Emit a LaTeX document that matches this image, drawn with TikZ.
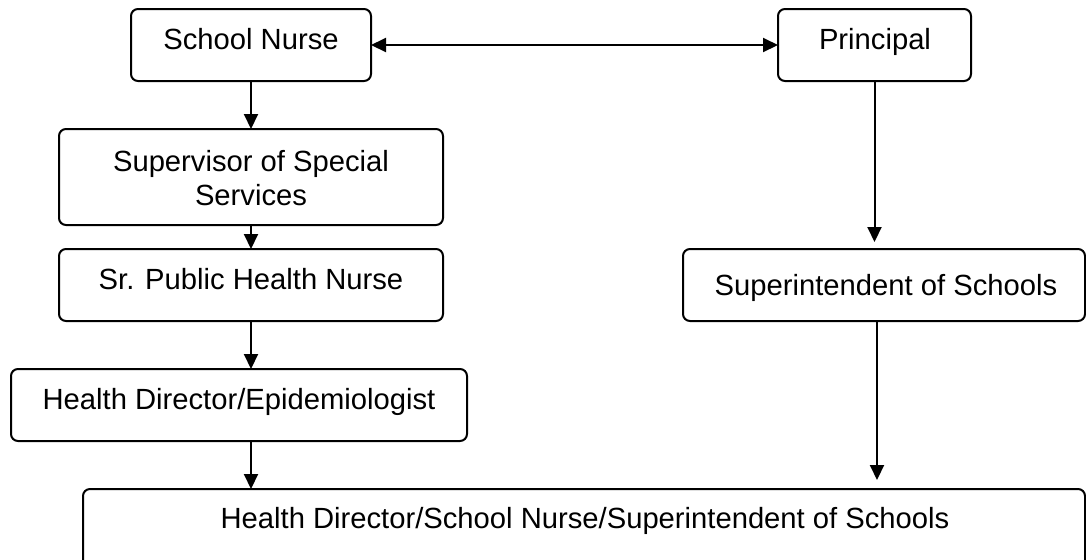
\documentclass[tikz,border=0pt]{standalone}
\usepackage{fontspec}
\setmainfont{Liberation Sans}
\usetikzlibrary{arrows.meta}
\begin{document}
\begin{tikzpicture}[x=0.5pt,y=-0.5pt,
  box/.style={draw=black, line width=1pt, rounded corners=3.5pt, inner sep=0pt, outer sep=0pt, minimum height=36pt},
  txt/.style={inner sep=0pt, font=\fontsize{14.6pt}{17pt}\selectfont, anchor=base, align=center},
  arr/.style={line width=1pt, -{Triangle[length=7.5pt,width=7pt]}},
  darr/.style={line width=1pt, {Triangle[length=7.5pt,width=7pt]}-{Triangle[length=7.5pt,width=7pt]}}]
\useasboundingbox (0,0) rectangle (1086,559);
\node[box, minimum width=120pt] (sn) at (251,45) {};
\node[txt] (snt) at (251,49) {School Nurse};
\node[box, minimum width=96.5pt] (pr) at (874.5,45) {};
\node[txt] (prt) at (875,49) {Principal};
\node[box, minimum width=192pt, minimum height=48pt] (sup) at (251,177) {};
\node[txt] (supt) at (251,205) {Supervisor of Special\\Services};
\node[box, minimum width=192pt] (sr) at (251,285) {};
\node[txt] (srt) at (251,289) {Sr. Public Health Nurse};
\node[box, minimum width=201pt] (si) at (884,285) {};
\node[txt] (sit) at (886,295) {Superintendent of Schools};
\node[box, minimum width=228pt] (hd) at (239,405) {};
\node[txt] (hdt) at (239,409) {Health Director/Epidemiologist};
\node[box, minimum width=501pt, minimum height=44pt] (bt) at (584,533) {};
\node[txt] (btt) at (585,528) {Health Director/School Nurse/Superintendent of Schools};
\draw[darr] (sn.east) -- (pr.west);
\draw[arr] (sn.south) -- (sup.north);
\draw[arr] (sup.south) -- (sr.north);
\draw[arr] (sr.south) -- (sr.south |- hd.north);
\draw[arr] (hd.south -| sr.south) -- (sr.south |- bt.north);
\draw[arr, shorten >=3.5pt] (pr.south) -- (pr.south |- si.north);
\draw[arr, shorten >=4.5pt] ([xshift=-3.5pt]si.south) -- ([xshift=-3.5pt]si.south |- bt.north);
\end{tikzpicture}
\end{document}
